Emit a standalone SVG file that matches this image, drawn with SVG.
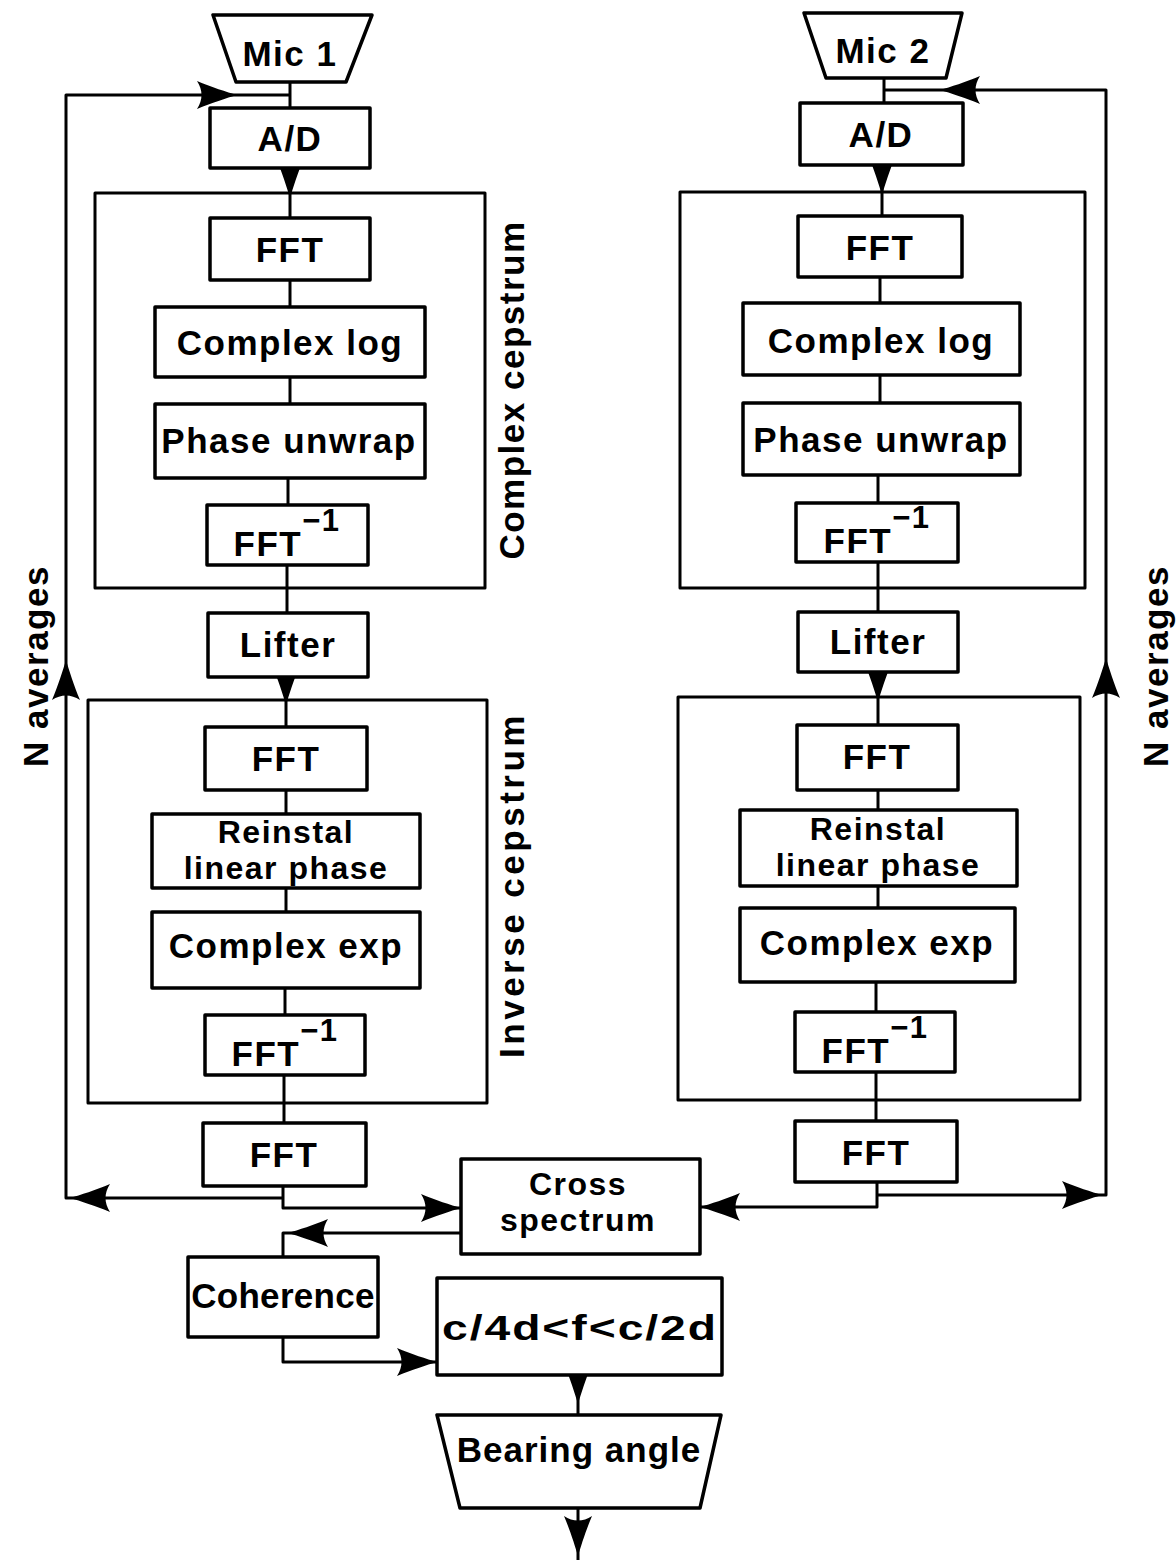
<svg xmlns="http://www.w3.org/2000/svg" xmlns:xlink="http://www.w3.org/1999/xlink" width="1176" height="1560" viewBox="0 0 1176 1560">
  <style>
    .box { fill: #fff; stroke: #000; stroke-width: 3.5; stroke-linejoin: round; }
    .frame { fill: none; stroke: #000; stroke-width: 3; stroke-linejoin: round; }
    .wire { fill: none; stroke: #000; stroke-width: 3; stroke-linejoin: round; }
    .lbl { font-family: "Liberation Sans", Arial, sans-serif; font-weight: bold; font-size: 35px; fill: #000; text-anchor: middle; letter-spacing: 1.5px; }
    .two { font-size: 32px; }
    .sup { font-size: 31px; }
    .side { font-family: "Liberation Sans", Arial, sans-serif; font-weight: bold; font-size: 35px; fill: #000; text-anchor: middle; letter-spacing: 1.5px; }
  </style>
  <defs>
    <!-- barbed arrowhead, tip at origin, pointing along +x -->
    <path id="ah" d="M0,0 C-10,-3 -26,-8 -40,-14 C-34,-5 -34,5 -40,14 C-26,8 -10,3 0,0 Z" fill="#000"/>
  </defs>
  <rect x="0" y="0" width="1176" height="1560" fill="#fff"/>

  <!-- connectors -->
  <g id="connectors">
    <!-- channel 1 chain -->
    <path class="wire" d="M290,82 V108"/>
    <path class="wire" d="M290,168 V218"/>
    <path class="wire" d="M290,280 V307"/>
    <path class="wire" d="M290,377 V404"/>
    <path class="wire" d="M288,478 V505"/>
    <path class="wire" d="M287,565 V613"/>
    <path class="wire" d="M286,677 V727"/>
    <path class="wire" d="M286,790 V814"/>
    <path class="wire" d="M286,888 V912"/>
    <path class="wire" d="M285,988 V1015"/>
    <path class="wire" d="M284,1075 V1123"/>
    <!-- channel 1 averaging loop -->
    <path class="wire" d="M283,1198 H66 V95 H290"/>
    <!-- channel 1 to cross spectrum -->
    <path class="wire" d="M283,1186 V1208 H461"/>
    <!-- cross spectrum to coherence -->
    <path class="wire" d="M461,1233 H283 V1257"/>
    <!-- coherence to band select -->
    <path class="wire" d="M283,1337 V1362 H437"/>
    <!-- band select to bearing angle and output -->
    <path class="wire" d="M578,1375 V1415"/>
    <path class="wire" d="M578,1508 V1560"/>

    <!-- channel 2 chain -->
    <path class="wire" d="M884,78 V103"/>
    <path class="wire" d="M882,165 V216"/>
    <path class="wire" d="M880,277 V303"/>
    <path class="wire" d="M880,375 V403"/>
    <path class="wire" d="M878,475 V503"/>
    <path class="wire" d="M878,562 V612"/>
    <path class="wire" d="M878,672 V725"/>
    <path class="wire" d="M878,790 V810"/>
    <path class="wire" d="M878,886 V908"/>
    <path class="wire" d="M876,982 V1012"/>
    <path class="wire" d="M876,1072 V1121"/>
    <!-- channel 2 to cross spectrum -->
    <path class="wire" d="M877,1182 V1207 H700"/>
    <!-- channel 2 averaging loop -->
    <path class="wire" d="M877,1195 H1106 V90 H884"/>

    <!-- arrowheads -->
    <use xlink:href="#ah" href="#ah" transform="translate(237,95)"/>
    <use xlink:href="#ah" href="#ah" transform="translate(66,660) rotate(-90)"/>
    <use xlink:href="#ah" href="#ah" transform="translate(70,1198) rotate(180)"/>
    <use xlink:href="#ah" href="#ah" transform="translate(290,198) rotate(90)"/>
    <use xlink:href="#ah" href="#ah" transform="translate(286,705) rotate(90)"/>
    <use xlink:href="#ah" href="#ah" transform="translate(461,1208)"/>
    <use xlink:href="#ah" href="#ah" transform="translate(288,1233) rotate(180)"/>
    <use xlink:href="#ah" href="#ah" transform="translate(437,1362)"/>
    <use xlink:href="#ah" href="#ah" transform="translate(578,1404) rotate(90)"/>
    <use xlink:href="#ah" href="#ah" transform="translate(578,1556) rotate(90)"/>
    <use xlink:href="#ah" href="#ah" transform="translate(940,90) rotate(180)"/>
    <use xlink:href="#ah" href="#ah" transform="translate(1106,658) rotate(-90)"/>
    <use xlink:href="#ah" href="#ah" transform="translate(1102,1195)"/>
    <use xlink:href="#ah" href="#ah" transform="translate(700,1207) rotate(180)"/>
    <use xlink:href="#ah" href="#ah" transform="translate(882,195) rotate(90)"/>
    <use xlink:href="#ah" href="#ah" transform="translate(878,702) rotate(90)"/>
  </g>

  <!-- grouping frames with their side labels -->
  <g id="complex-cepstrum-1">
    <rect class="frame" x="95" y="193" width="390" height="395"/>
    <text class="side" transform="translate(524,390) rotate(-90)">Complex cepstrum</text>
  </g>
  <g id="inverse-cepstrum-1">
    <rect class="frame" x="88" y="700" width="399" height="403"/>
    <text class="side" transform="translate(524,885) rotate(-90)" style="letter-spacing:3.5px">Inverse cepstrum</text>
  </g>
  <g id="complex-cepstrum-2">
    <rect class="frame" x="680" y="192" width="405" height="396"/>
  </g>
  <g id="inverse-cepstrum-2">
    <rect class="frame" x="678" y="697" width="402" height="403"/>
  </g>
  <g id="n-averages-1">
    <text class="side" transform="translate(48,666) rotate(-90)">N averages</text>
  </g>
  <g id="n-averages-2">
    <text class="side" transform="translate(1168,666) rotate(-90)">N averages</text>
  </g>

  <!-- channel 1 -->
  <g id="mic1">
    <path class="box" d="M213,15 H372 L346,82 H236 Z"/>
    <text class="lbl" x="290" y="66">Mic  1</text>
  </g>
  <g id="ad1">
    <rect class="box" x="210" y="108" width="160" height="60"/>
    <text class="lbl" x="290" y="151">A/D</text>
  </g>
  <g id="fft1a">
    <rect class="box" x="210" y="218" width="160" height="62"/>
    <text class="lbl" x="290" y="262">FFT</text>
  </g>
  <g id="clog1">
    <rect class="box" x="155" y="307" width="270" height="70"/>
    <text class="lbl" x="290" y="355">Complex log</text>
  </g>
  <g id="unwrap1">
    <rect class="box" x="155" y="404" width="270" height="74"/>
    <text class="lbl" x="289" y="453">Phase unwrap</text>
  </g>
  <g id="ifft1a">
    <rect class="box" x="207" y="505" width="161" height="60"/>
    <text class="lbl" x="287" y="556">FFT<tspan class="sup" dy="-25">−1</tspan></text>
  </g>
  <g id="lifter1">
    <rect class="box" x="208" y="613" width="160" height="64"/>
    <text class="lbl" x="288" y="657">Lifter</text>
  </g>
  <g id="fft1b">
    <rect class="box" x="205" y="727" width="162" height="63"/>
    <text class="lbl" x="286" y="771">FFT</text>
  </g>
  <g id="relin1">
    <rect class="box" x="152" y="814" width="268" height="74"/>
    <text class="lbl two" x="286" y="843">Reinstal</text>
    <text class="lbl two" x="286" y="879">linear phase</text>
  </g>
  <g id="cexp1">
    <rect class="box" x="152" y="912" width="268" height="76"/>
    <text class="lbl" x="286" y="958">Complex exp</text>
  </g>
  <g id="ifft1b">
    <rect class="box" x="205" y="1015" width="160" height="60"/>
    <text class="lbl" x="285" y="1066">FFT<tspan class="sup" dy="-25">−1</tspan></text>
  </g>
  <g id="fft1c">
    <rect class="box" x="203" y="1123" width="163" height="63"/>
    <text class="lbl" x="284" y="1167">FFT</text>
  </g>

  <!-- channel 2 -->
  <g id="mic2">
    <path class="box" d="M804,13 H962 L946,78 H826 Z"/>
    <text class="lbl" x="883" y="63">Mic  2</text>
  </g>
  <g id="ad2">
    <rect class="box" x="800" y="103" width="163" height="62"/>
    <text class="lbl" x="881" y="147">A/D</text>
  </g>
  <g id="fft2a">
    <rect class="box" x="798" y="216" width="164" height="61"/>
    <text class="lbl" x="880" y="260">FFT</text>
  </g>
  <g id="clog2">
    <rect class="box" x="743" y="303" width="277" height="72"/>
    <text class="lbl" x="881" y="353">Complex log</text>
  </g>
  <g id="unwrap2">
    <rect class="box" x="743" y="403" width="277" height="72"/>
    <text class="lbl" x="881" y="452">Phase unwrap</text>
  </g>
  <g id="ifft2a">
    <rect class="box" x="796" y="503" width="162" height="59"/>
    <text class="lbl" x="877" y="553">FFT<tspan class="sup" dy="-25">−1</tspan></text>
  </g>
  <g id="lifter2">
    <rect class="box" x="798" y="612" width="160" height="60"/>
    <text class="lbl" x="878" y="654">Lifter</text>
  </g>
  <g id="fft2b">
    <rect class="box" x="797" y="725" width="161" height="65"/>
    <text class="lbl" x="877" y="769">FFT</text>
  </g>
  <g id="relin2">
    <rect class="box" x="740" y="810" width="277" height="76"/>
    <text class="lbl two" x="878" y="840">Reinstal</text>
    <text class="lbl two" x="878" y="876">linear phase</text>
  </g>
  <g id="cexp2">
    <rect class="box" x="740" y="908" width="275" height="74"/>
    <text class="lbl" x="877" y="955">Complex exp</text>
  </g>
  <g id="ifft2b">
    <rect class="box" x="795" y="1012" width="160" height="60"/>
    <text class="lbl" x="875" y="1063">FFT<tspan class="sup" dy="-25">−1</tspan></text>
  </g>
  <g id="fft2c">
    <rect class="box" x="795" y="1121" width="162" height="61"/>
    <text class="lbl" x="876" y="1165">FFT</text>
  </g>

  <!-- combining stages -->
  <g id="cross-spectrum">
    <rect class="box" x="461" y="1159" width="239" height="95"/>
    <text class="lbl two" x="578" y="1195">Cross</text>
    <text class="lbl two" x="578" y="1231">spectrum</text>
  </g>
  <g id="coherence">
    <rect class="box" x="188" y="1257" width="190" height="80"/>
    <text class="lbl" x="283" y="1308" style="letter-spacing:0.3px">Coherence</text>
  </g>
  <g id="band-select">
    <rect class="box" x="437" y="1278" width="285" height="97"/>
    <text class="lbl" x="580" y="1340" textLength="276" lengthAdjust="spacingAndGlyphs">c/4d&lt;f&lt;c/2d</text>
  </g>
  <g id="bearing-angle">
    <path class="box" d="M437,1415 H721 L700,1508 H460 Z"/>
    <text class="lbl" x="579" y="1462" style="letter-spacing:1px">Bearing angle</text>
  </g>
</svg>
